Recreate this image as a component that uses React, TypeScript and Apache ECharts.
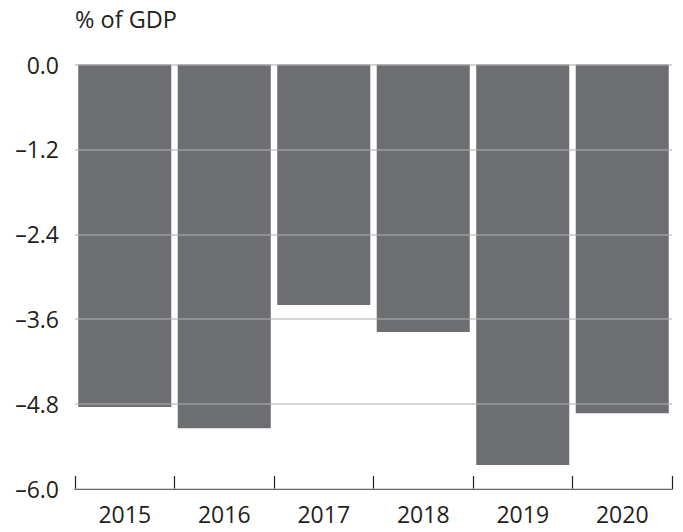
import React, { useEffect, useRef } from "react";
import * as echarts from "echarts";

const categories = ["2015", "2016", "2017", "2018", "2019", "2020"];
const values = [-4.84, -5.14, -3.4, -3.78, -5.66, -4.93];
const yTicks = [0, -1.2, -2.4, -3.6, -4.8, -6.0];
const titleText = "% of GDP";

const FONT = "'Open Sans', 'Noto Sans', sans-serif";

export default function App() {
  const ref = useRef<HTMLDivElement>(null);
  useEffect(() => {
    if (!ref.current) return;
    const chart = echarts.init(ref.current, undefined, { renderer: "svg" });
    chart.setOption({
      animation: false,
      backgroundColor: "#ffffff",
      title: {
        text: titleText,
        left: 70,
        top: 2,
        textStyle: { fontFamily: FONT, fontSize: 23.5, fontWeight: "normal", color: "#231f20" },
      },
      grid: { left: 75, right: 11, top: 64.5, bottom: 43, containLabel: false },
      xAxis: {
        type: "category",
        data: categories,
        position: "bottom",
        axisLine: { onZero: false, lineStyle: { color: "#231f20", width: 1.2 } },
        axisTick: { show: true, inside: true, length: 13, lineStyle: { color: "#231f20", width: 1.2 } },
        axisLabel: { fontFamily: FONT, fontSize: 23, color: "#231f20", margin: 13 },
        splitLine: { show: false },
      },
      yAxis: {
        type: "value",
        min: -6,
        max: 0,
        interval: 1.2,
        z: 3,
        axisLine: { show: false },
        axisTick: { show: false },
        axisLabel: {
          fontFamily: FONT,
          fontSize: 23,
          color: "#231f20",
          margin: 16,
          formatter: (v: number) => {
            const t = yTicks.find((k) => Math.abs(k - v) < 1e-6);
            const val = t !== undefined ? t : v;
            const s = Math.abs(val).toFixed(1);
            return val < -1e-9 ? "\u2013" + s : s;
          },
        },
        splitLine: {
          show: true,
          lineStyle: { color: "rgba(175,175,175,0.7)", width: 1.5 },
        },
      },
      series: [
        {
          type: "bar",
          data: values,
          z: 1,
          barCategoryGap: "6.5%",
          itemStyle: { color: "#6d6e71" },
        },
      ],
    });
    return () => chart.dispose();
  }, []);
  return (
    <div
      ref={ref}
      style={{ position: "absolute", left: 0, top: 0, width: 683, height: 532 }}
    />
  );
}
